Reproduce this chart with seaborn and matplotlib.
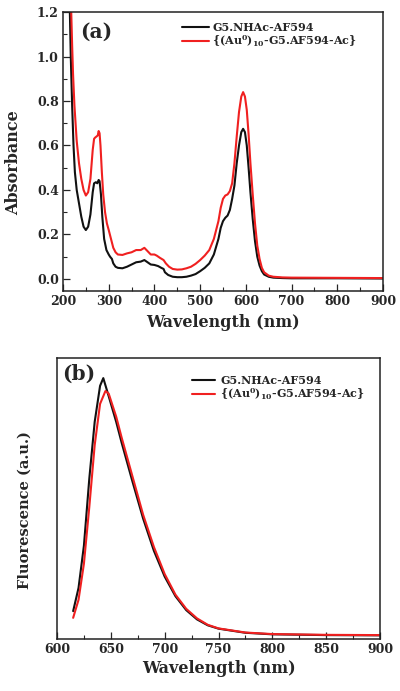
import numpy as np
import pandas as pd
import matplotlib
matplotlib.use("Agg")
import matplotlib.pyplot as plt
from matplotlib.ticker import MultipleLocator
import seaborn as sns

# ---------------- data ----------------
series_names = ["G5.NHAc-AF594", r"{(Au$^{\mathbf{0}}$)$_{\mathbf{10}}$-G5.AF594-Ac}"]
series_colors = ["#111111", "#f02020"]

abs_black_wl = [214, 217, 220, 223, 226, 230, 235, 240, 245, 250, 255, 260, 265, 268, 272, 275, 278, 280, 283, 286,
                290, 295, 300, 303, 307, 310, 315, 320, 330, 340, 350, 360, 370, 378, 385, 392, 400, 408, 415, 420,
                423, 430, 440, 450, 460, 470, 480, 490, 500, 510, 520, 530, 540, 545, 550, 555, 560, 565, 570, 575,
                580, 585, 590, 594, 598, 602, 606, 610, 615, 620, 625, 630, 635, 640, 650, 660, 680, 700, 800, 900]
abs_black = [1.30, 1.00, 0.78, 0.60, 0.48, 0.40, 0.34, 0.28, 0.235, 0.22, 0.235, 0.29, 0.39, 0.43, 0.435, 0.43, 0.445, 0.44, 0.38, 0.28,
             0.18, 0.13, 0.11, 0.10, 0.09, 0.07, 0.055, 0.05, 0.048, 0.055, 0.065, 0.075, 0.078, 0.085, 0.075, 0.065, 0.063, 0.058, 0.05, 0.045,
             0.03, 0.018, 0.01, 0.008, 0.008, 0.01, 0.015, 0.022, 0.035, 0.05, 0.07, 0.11, 0.18, 0.23, 0.26, 0.275, 0.285, 0.31, 0.36, 0.42,
             0.52, 0.60, 0.66, 0.675, 0.66, 0.60, 0.50, 0.39, 0.27, 0.17, 0.10, 0.06, 0.035, 0.02, 0.01, 0.006, 0.004, 0.003, 0.003, 0.002]

abs_red_wl = [216, 218, 220, 222, 225, 230, 235, 240, 245, 250, 255, 260, 265, 268, 270, 273, 276, 278, 280, 282,
              285, 288, 292, 296, 300, 305, 310, 315, 320, 330, 340, 350, 360, 370, 378, 385, 392, 400, 405, 412,
              420, 425, 432, 440, 450, 460, 470, 480, 490, 500, 510, 520, 530, 540, 545, 550, 555, 560, 565, 570,
              575, 580, 585, 590, 594, 598, 602, 606, 610, 615, 620, 625, 630, 635, 640, 650, 660, 680, 700, 800, 900]
abs_red = [1.35, 1.20, 1.05, 0.92, 0.78, 0.62, 0.52, 0.45, 0.40, 0.375, 0.39, 0.45, 0.58, 0.63, 0.635, 0.64, 0.645, 0.665, 0.655, 0.60,
           0.48, 0.38, 0.30, 0.25, 0.22, 0.18, 0.14, 0.12, 0.11, 0.108, 0.115, 0.12, 0.13, 0.13, 0.14, 0.125, 0.11, 0.11, 0.105, 0.095,
           0.085, 0.07, 0.055, 0.045, 0.042, 0.043, 0.048, 0.055, 0.068, 0.085, 0.105, 0.13, 0.18, 0.26, 0.32, 0.36, 0.375, 0.38, 0.395, 0.43,
           0.52, 0.64, 0.75, 0.82, 0.84, 0.82, 0.76, 0.65, 0.52, 0.38, 0.25, 0.15, 0.09, 0.05, 0.03, 0.015, 0.01, 0.007, 0.006, 0.005, 0.004]

fl_wl = [615, 620, 625, 630, 635, 640, 643, 648, 655, 660, 670, 680, 690, 700, 710, 720, 730, 740, 750, 775, 800, 850, 900]
fl_black = [0.096, 0.186, 0.35, 0.61, 0.83, 0.97, 1.0, 0.93, 0.83, 0.75, 0.60, 0.455, 0.33, 0.23, 0.154, 0.10, 0.064, 0.041, 0.028,
            0.012, 0.006, 0.003, 0.002]
fl_red_wl = [615, 620, 625, 630, 635, 640, 645, 648, 655, 660, 670, 680, 690, 700, 710, 720, 730, 740, 750, 775, 800, 850, 900]
fl_red = [0.07, 0.14, 0.28, 0.50, 0.74, 0.90, 0.95, 0.94, 0.85, 0.77, 0.62, 0.47, 0.345, 0.24, 0.16, 0.105, 0.068, 0.043, 0.029,
          0.013, 0.007, 0.004, 0.003]

xticks_a = [200, 300, 400, 500, 600, 700, 800, 900]
yticks_a = [0.0, 0.2, 0.4, 0.6, 0.8, 1.0, 1.2]
xticks_b = [600, 650, 700, 750, 800, 850, 900]

# ---------------- style ----------------
sns.set_theme(style="ticks")
plt.rcParams["font.family"] = ["DejaVu Serif"]
plt.rcParams["font.weight"] = "bold"
plt.rcParams["axes.labelweight"] = "bold"
plt.rcParams["mathtext.fontset"] = "dejavuserif"
plt.rcParams["axes.edgecolor"] = "#222222"

fig = plt.figure(figsize=(4.0, 6.91), dpi=100)
ax1 = fig.add_axes([0.1575, 0.5789, 0.80, 0.4037])
ax2 = fig.add_axes([0.1425, 0.0753, 0.8075, 0.4066])

df_a = pd.concat([
    pd.DataFrame({"wl": abs_black_wl, "val": abs_black, "s": series_names[0]}),
    pd.DataFrame({"wl": abs_red_wl, "val": abs_red, "s": series_names[1]}),
])
df_b = pd.concat([
    pd.DataFrame({"wl": fl_wl, "val": fl_black, "s": series_names[0]}),
    pd.DataFrame({"wl": fl_red_wl, "val": fl_red, "s": series_names[1]}),
])
pal = dict(zip(series_names, series_colors))

sns.lineplot(data=df_a, x="wl", y="val", hue="s", palette=pal, estimator=None,
             linewidth=1.5, ax=ax1)
sns.lineplot(data=df_b, x="wl", y="val", hue="s", palette=pal, estimator=None,
             linewidth=1.5, ax=ax2)

# ---------------- axes (a) ----------------
ax1.set_xlim(200, 900)
ax1.set_ylim(-0.054, 1.2)
ax1.set_xticks(xticks_a)
ax1.set_yticks(yticks_a)
ax1.set_yticklabels([f"{v:.1f}" for v in yticks_a])
ax1.xaxis.set_minor_locator(MultipleLocator(50))
ax1.yaxis.set_minor_locator(MultipleLocator(0.1))
ax1.set_xlabel("Wavelength (nm)", fontsize=11.5, fontweight="bold", labelpad=4)
ax1.set_ylabel("Absorbance", fontsize=11.5, fontweight="bold")
ax1.yaxis.set_label_coords(-0.128, 0.46)
ax1.text(0.055, 0.93, "(a)", transform=ax1.transAxes, fontsize=14.5, fontweight="bold", va="center", ha="left")

# ---------------- axes (b) ----------------
ax2.set_xlim(600, 900)
ax2.set_ylim(-0.012, 1.078)
ax2.set_xticks(xticks_b)
ax2.xaxis.set_minor_locator(MultipleLocator(25))
ax2.set_yticks([])
ax2.set_xlabel("Wavelength (nm)", fontsize=11.5, fontweight="bold", labelpad=3)
ax2.set_ylabel("Fluorescence (a.u.)", fontsize=10.5, fontweight="bold")
ax2.yaxis.set_label_coords(-0.078, 0.46)
ax2.text(0.015, 0.945, "(b)", transform=ax2.transAxes, fontsize=14.5, fontweight="bold", va="center", ha="left")

for ax in (ax1, ax2):
    for sp in ax.spines.values():
        sp.set_visible(True)
        sp.set_linewidth(1.1)
    ax.tick_params(which="major", direction="in", length=5, width=0.9, labelsize=9,
                   top=False, right=False, pad=3)
    ax.tick_params(which="minor", direction="in", length=3, width=0.8, top=False, right=False)
    for lab in ax.get_xticklabels() + ax.get_yticklabels():
        lab.set_fontweight("bold")
    ax.get_legend().remove()

h, l = ax1.get_legend_handles_labels()
ax1.legend(h, l, loc="upper left", bbox_to_anchor=(0.372, 0.965), frameon=False,
           borderpad=0, borderaxespad=0, labelspacing=0.05, handlelength=2.4, handletextpad=0.3,
           prop={"weight": "bold", "size": 8})
h, l = ax2.get_legend_handles_labels()
ax2.legend(h, l, loc="upper left", bbox_to_anchor=(0.418, 0.94), frameon=False,
           borderpad=0, borderaxespad=0, labelspacing=0.05, handlelength=2.1, handletextpad=0.45,
           prop={"weight": "bold", "size": 8})

fig.savefig("out.png", dpi=100)
